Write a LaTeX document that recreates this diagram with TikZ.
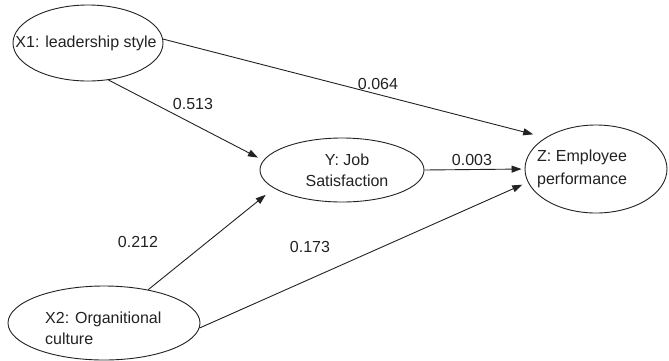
\documentclass[tikz,border=0pt]{standalone}
\usepackage{fontspec}
\setmainfont{Liberation Sans}
\usetikzlibrary{shapes.geometric,arrows.meta}
\definecolor{ink}{HTML}{222222}
\begin{document}
\begin{tikzpicture}[x=1pt,y=-1pt,
  latent/.style={draw=ink,line width=0.9pt,ellipse,inner sep=0pt},
  txt/.style={text=ink,font=\fontsize{16}{21}\selectfont,inner sep=0pt},
  coef/.style={text=ink,font=\fontsize{16}{19}\selectfont,inner sep=0pt},
  path/.style={draw=ink,line width=0.9pt,-{Triangle[length=10pt,width=7pt]}}
]
\useasboundingbox (0,0) rectangle (669,360);
\fill[white] (0,0) rectangle (669,360);

\node[latent,minimum width=150pt,minimum height=76pt] (x1) at (88,43) {};
\node[latent,minimum width=164pt,minimum height=64pt] (y) at (342,170) {};
\node[latent,minimum width=142pt,minimum height=88pt] (z) at (596,169) {};
\node[latent,minimum width=192pt,minimum height=74pt] (x2) at (104,323) {};

\node[txt] (tx1) at (86,43) {X1: leadership style};
\node[txt,align=center] (ty) at (347,170) {Y: Job\\Satisfaction};
\node[txt,align=left,anchor=west] (tz) at (537,169) {Z: Employee\\[2pt]performance};
\node[txt,align=left,anchor=west] (tx2) at (45,328) {X2: Organitional\\culture};

\draw[path,shorten >=12.8pt] (x1.3) -- (z.148.7);
\draw[path,shorten >=6pt] (x1.-61) -- (y.173);
\draw[path,shorten >=3pt] (y.0) -- (z.180);
\draw[path,shorten >=10.5pt] (x2.37.7) -- (y.195.4);
\draw[path,shorten >=6pt] (x2.-3) -- (z.191.4);

\node[coef] (c064) at (378,84) {0.064};
\node[coef] (c513) at (193,104) {0.513};
\node[coef] (c003) at (472,160) {0.003};
\node[coef] (c212) at (138,242) {0.212};
\node[coef] (c173) at (310,247) {0.173};
\end{tikzpicture}
\end{document}
